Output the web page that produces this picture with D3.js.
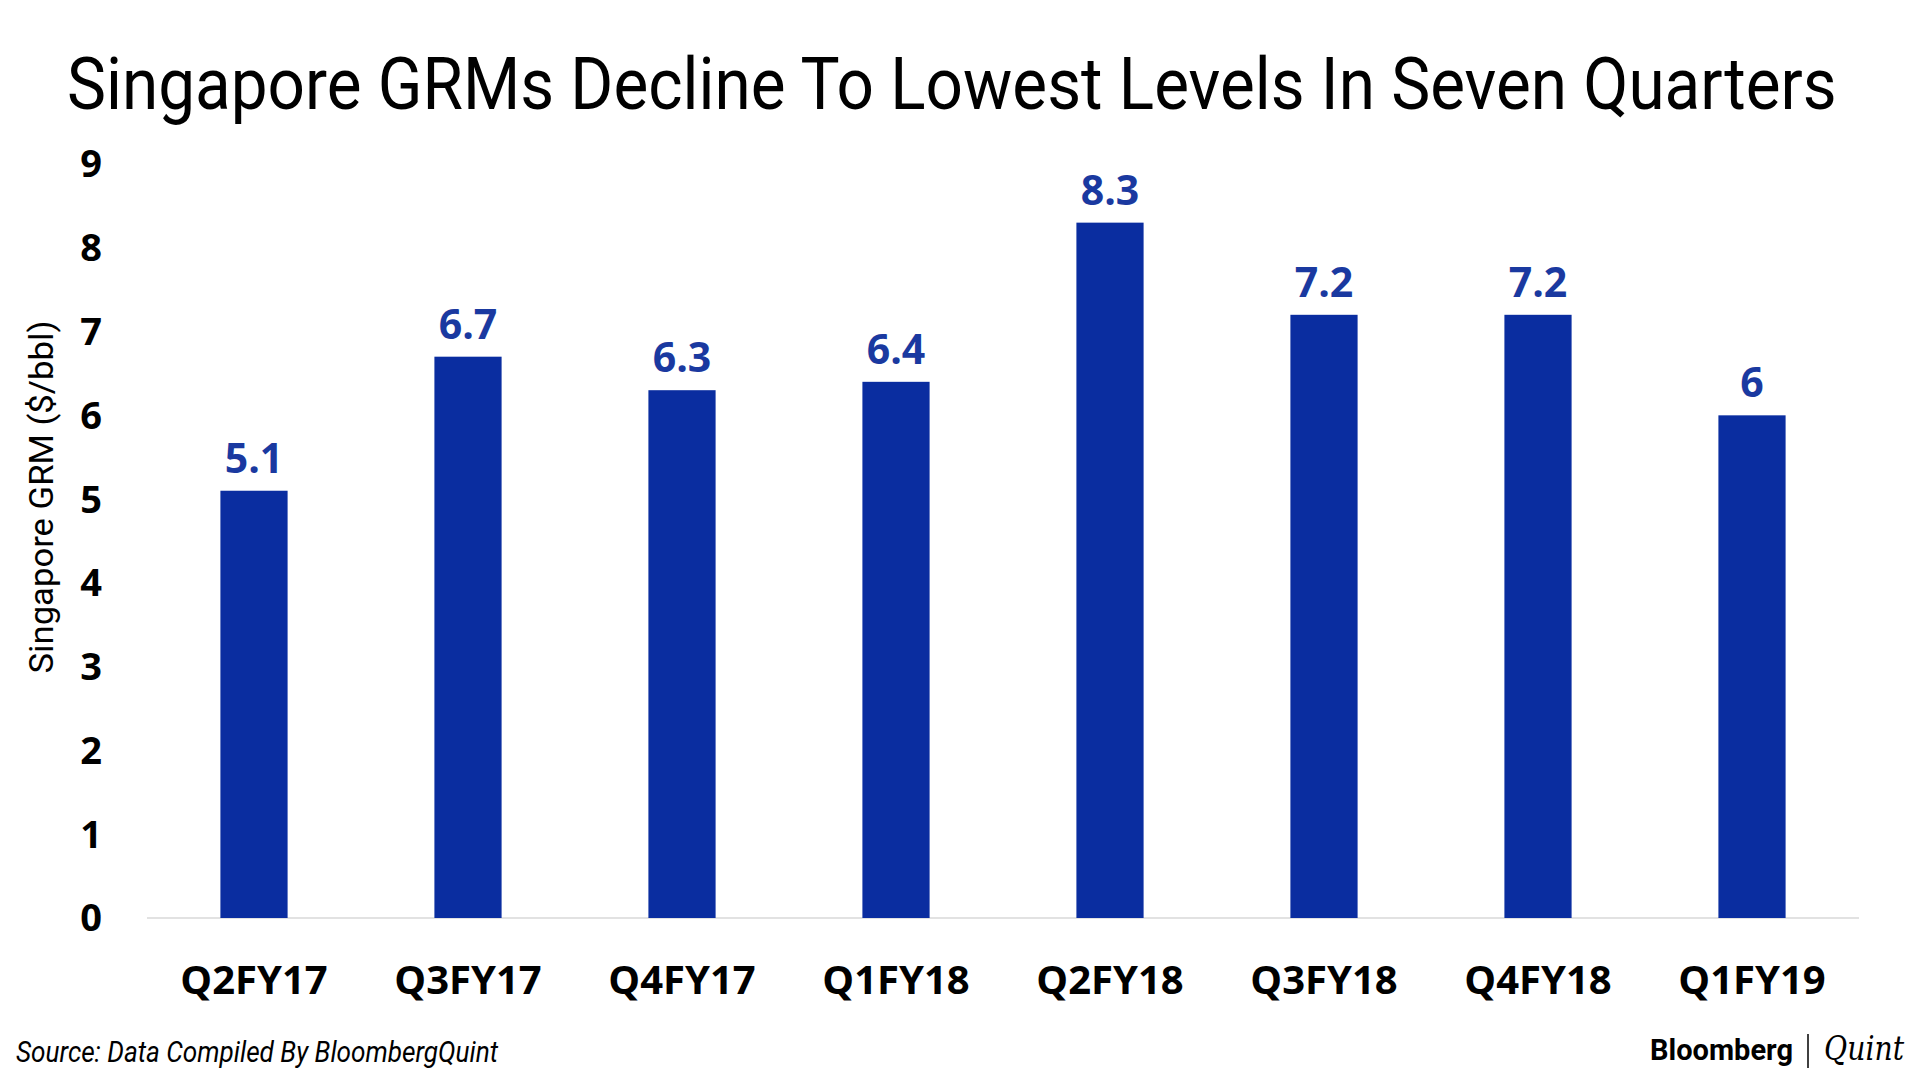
<!DOCTYPE html>
<html>
<head>
<meta charset="utf-8">
<script src="https://cdn.jsdelivr.net/npm/d3@7"></script>
<style>
  body { margin: 0; background: #fff; }
  svg { display: block; }
</style>
</head>
<body>
<svg></svg>
<script>
// Data
let quarters = ['Q2FY17', 'Q3FY17', 'Q4FY17', 'Q1FY18', 'Q2FY18', 'Q3FY18', 'Q4FY18', 'Q1FY19'];
let grm = [5.1, 6.7, 6.3, 6.4, 8.3, 7.2, 7.2, 6];
let yTicks = [0, 1, 2, 3, 4, 5, 6, 7, 8, 9];

let titleText = 'Singapore GRMs Decline To Lowest Levels In Seven Quarters';
let yLabelText = 'Singapore GRM ($/bbl)';
let sourceText = 'Source: Data Compiled By BloombergQuint';

// SVG size
let svgWidth = 1920;
let svgHeight = 1080;

let barColor = '#0a2da0';
let labelColor = '#1a39a0';

let svg = d3.select('svg')
  .attr('width', svgWidth)
  .attr('height', svgHeight);

/**
 * Squeeze a text horizontally so it spans the given width
 */
function fitWidth(sel, x, y, width) {
  let natural = sel.node().getComputedTextLength();
  let k = Math.min(1, width / natural);
  sel.attr('transform', 'translate(' + x + ', ' + y + ') scale(' + k + ', 1)');
}

// Scales
let xScale = d3.scaleBand()
  .domain(quarters)
  .range([147, 1859])
  .paddingInner(0.686)
  .paddingOuter(0.343);

let yScale = d3.scaleLinear()
  .domain([0, 9])
  .range([918, 164]);

// Title
let title = svg.append('text')
  .attr('font-family', 'Roboto, sans-serif')
  .attr('font-size', '73px')
  .attr('fill', '#000')
  .text(titleText);
fitWidth(title, 67, 109, 1770);

// Baseline axis
svg.append('line')
  .attr('x1', 147)
  .attr('x2', 1859)
  .attr('y1', yScale(0))
  .attr('y2', yScale(0))
  .attr('stroke', '#d9d9d9')
  .attr('stroke-width', 1.5);

// y axis (labels only)
let yAxis = d3.axisLeft(yScale)
  .tickValues(yTicks)
  .tickSize(0)
  .tickPadding(0)
  .tickFormat(d3.format('d'));

let yAxisG = svg.append('g')
  .attr('transform', 'translate(102, 0)')
  .call(yAxis);
yAxisG.select('.domain').remove();
yAxisG.selectAll('text')
  .attr('font-family', '"Open Sans", sans-serif')
  .attr('font-weight', 700)
  .attr('font-size', '38px')
  .attr('fill', '#000')
  .attr('dy', '0.34em');

// x axis (labels only)
let xAxis = d3.axisBottom(xScale)
  .tickSize(0)
  .tickPadding(0);

let xAxisG = svg.append('g')
  .attr('transform', 'translate(0, 994)')
  .call(xAxis);
xAxisG.select('.domain').remove();
xAxisG.selectAll('text')
  .attr('font-family', '"Open Sans", sans-serif')
  .attr('font-weight', 700)
  .attr('font-size', '40px')
  .attr('fill', '#000')
  .attr('dy', 0);

// y label
svg.append('text')
  .attr('transform', 'translate(53, 497) rotate(-90)')
  .attr('text-anchor', 'middle')
  .attr('textLength', 353)
  .attr('lengthAdjust', 'spacingAndGlyphs')
  .attr('font-family', 'Roboto, sans-serif')
  .attr('font-size', '34px')
  .attr('fill', '#000')
  .text(yLabelText);

// Bars
let rows = quarters.map((q, i) => ({ q: q, v: grm[i] }));

svg.selectAll('.bar')
  .data(rows)
  .enter()
  .append('rect')
  .attr('class', 'bar')
  .attr('x', d => xScale(d.q))
  .attr('y', d => yScale(d.v))
  .attr('width', xScale.bandwidth())
  .attr('height', d => yScale(0) - yScale(d.v))
  .attr('fill', barColor);

// Value labels
svg.selectAll('.value')
  .data(rows)
  .enter()
  .append('text')
  .attr('class', 'value')
  .attr('x', d => xScale(d.q) + xScale.bandwidth() / 2)
  .attr('y', d => yScale(d.v) - 18)
  .attr('text-anchor', 'middle')
  .attr('font-family', '"Open Sans", sans-serif')
  .attr('font-weight', 700)
  .attr('font-size', '41px')
  .attr('fill', labelColor)
  .text(d => d.v);

// Source note
svg.append('text')
  .attr('x', 16)
  .attr('y', 1062)
  .attr('textLength', 482)
  .attr('lengthAdjust', 'spacingAndGlyphs')
  .attr('font-family', 'Roboto, sans-serif')
  .attr('font-style', 'italic')
  .attr('font-size', '29px')
  .attr('fill', '#000')
  .text(sourceText);

// Logo
svg.append('text')
  .attr('x', 1650)
  .attr('y', 1060)
  .attr('textLength', 143)
  .attr('lengthAdjust', 'spacingAndGlyphs')
  .attr('font-family', 'Roboto, sans-serif')
  .attr('font-weight', 700)
  .attr('font-size', '30px')
  .attr('fill', '#000')
  .text('Bloomberg');

svg.append('line')
  .attr('x1', 1808)
  .attr('x2', 1808)
  .attr('y1', 1034)
  .attr('y2', 1068)
  .attr('stroke', '#000')
  .attr('stroke-width', 1.5);

svg.append('text')
  .attr('x', 1824)
  .attr('y', 1060)
  .attr('textLength', 80)
  .attr('lengthAdjust', 'spacingAndGlyphs')
  .attr('font-family', '"DejaVu Serif", serif')
  .attr('font-style', 'italic')
  .attr('font-size', '33px')
  .attr('fill', '#000')
  .text('Quint');
</script>
</body>
</html>
